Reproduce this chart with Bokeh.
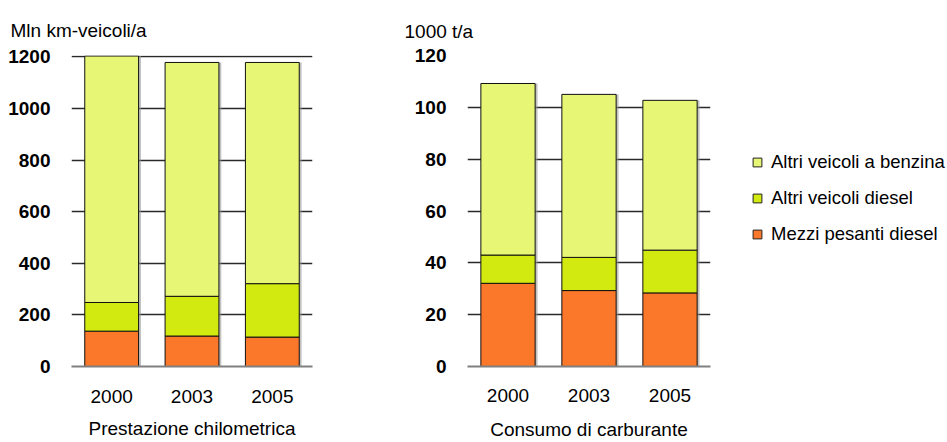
from bokeh.plotting import figure
from bokeh.models import FactorRange, Range1d, Legend, LegendItem, FixedTicker
from bokeh.layouts import row
from bokeh.transform import dodge
from bokeh.embed import file_html
from bokeh.resources import INLINE

years = ["2000", "2003", "2005"]
series = ["Mezzi pesanti diesel", "Altri veicoli diesel", "Altri veicoli a benzina"]
colors = ["#FB7729", "#D3EA10", "#E7F674"]

# Prestazione chilometrica (Mln km-veicoli/a)
km_pesanti = [137, 118, 114]
km_diesel = [111, 154, 207]
km_benzina = [955, 906, 857]

# Consumo di carburante (1000 t/a)
fuel_pesanti = [32.1, 29.3, 28.4]
fuel_diesel = [10.9, 12.8, 16.5]
fuel_benzina = [66.2, 62.9, 57.8]

FONT = "Liberation Sans"


def make_fig(vals, ymax, yticks, title, xlabel, width, height, bl, br, bt, bb, tick_so, lab_so):
    data = {"year": years, series[0]: vals[0], series[1]: vals[1], series[2]: vals[2]}
    data["total"] = [a + b + c for a, b, c in zip(*vals)]
    p = figure(x_range=FactorRange(*years, range_padding=0), y_range=Range1d(0, ymax),
               width=width, height=height, output_backend="svg", toolbar_location=None,
               min_border_left=bl, min_border_right=br, min_border_top=bt, min_border_bottom=bb)
    p.outline_line_color = None
    p.background_fill_color = "white"
    p.border_fill_color = "white"
    # shadow
    p.vbar(x=dodge("year", 0.03, range=p.x_range), top="total", width=0.67, source=data,
           fill_color="#9a9a9a", line_color=None, fill_alpha=0.6)
    rs = p.vbar_stack(series, x="year", width=0.67, source=data, fill_color=colors,
                      line_color="#111111", line_width=1)
    p.xgrid.visible = False
    p.ygrid.ticker = FixedTicker(ticks=yticks)
    p.ygrid.grid_line_color = "#2a2a2a"
    p.ygrid.grid_line_width = 1.4
    p.yaxis.ticker = FixedTicker(ticks=yticks)
    p.yaxis.axis_line_color = None
    p.yaxis.major_tick_line_color = None
    p.yaxis.minor_tick_line_color = None
    p.yaxis.major_tick_out = 0
    p.yaxis.minor_tick_out = 0
    p.yaxis.axis_label_standoff = 0
    p.yaxis.major_label_text_font = FONT
    p.yaxis.major_label_text_font_size = "19px"
    p.yaxis.major_label_text_font_style = "bold"
    p.yaxis.major_label_text_color = "#000000"
    p.yaxis.major_label_standoff = 21
    p.xaxis.axis_line_color = "#808080"
    p.xaxis.axis_line_width = 2
    p.xaxis.major_tick_line_color = None
    p.xaxis.minor_tick_line_color = None
    p.xaxis.major_tick_out = 0
    p.xaxis.minor_tick_out = 0
    p.xaxis.major_label_text_font = FONT
    p.xaxis.major_label_text_font_size = "19px"
    p.xaxis.major_label_text_color = "#000000"
    p.xaxis.major_label_standoff = tick_so
    p.xaxis.axis_label = xlabel
    p.xaxis.axis_label_text_font = FONT
    p.xaxis.axis_label_text_font_size = "19px"
    p.xaxis.axis_label_text_font_style = "normal"
    p.xaxis.axis_label_text_color = "#000000"
    p.xaxis.axis_label_standoff = lab_so
    p.title.text = title
    p.title.text_font = FONT
    p.title.text_font_size = "19px"
    p.title.text_font_style = "normal"
    p.title.text_color = "#000000"
    p.title.align = "left"
    return p, rs


p1, r1 = make_fig([km_pesanti, km_diesel, km_benzina], 1205, [0, 200, 400, 600, 800, 1000, 1200],
                  "Mln km-veicoli/a", "Prestazione chilometrica", 322, 442, 71, 10, 55, 73, 23, 12)
p1.title.offset = -61
p1.title.standoff = 30

p2, r2 = make_fig([fuel_pesanti, fuel_diesel, fuel_benzina], 120, [0, 20, 40, 60, 80, 100, 120],
                  "1000 t/a", "Consumo di carburante", 398, 442, 145, 10, 53, 75, 22, 14)
p2.title.offset = -63
p2.title.standoff = 28

# legend-only figure (legend proxies are hidden renderers of the fuel data)
p3 = figure(width=227, height=442, output_backend="svg", toolbar_location=None,
            x_range=FactorRange(*years), y_range=Range1d(0, 1),
            x_axis_type=None, y_axis_type=None, title=None,
            min_border_left=0, min_border_right=0, min_border_top=0, min_border_bottom=0)
p3.grid.visible = False
p3.outline_line_color = None
fuel_vals = [fuel_pesanti, fuel_diesel, fuel_benzina]
proxies = []
for i in range(3):
    rr = p3.scatter(x=years, y=fuel_vals[i], marker="square", size=9,
                    fill_color=colors[i], line_color="#222222", line_width=1)
    rr.visible = False
    proxies.append(rr)
items = [LegendItem(label=series[i], renderers=[proxies[i]]) for i in (2, 1, 0)]
legend = Legend(items=items, location=(26, 121))
legend.label_text_font = FONT
legend.label_text_font_size = "18.5px"
legend.label_text_color = "#000000"
legend.glyph_width = 22
legend.glyph_height = 22
legend.label_height = 22
legend.label_standoff = 3
legend.spacing = 14
legend.padding = 0
legend.margin = 0
legend.border_line_color = None
legend.background_fill_alpha = 0
legend.inactive_fill_alpha = 0
p3.add_layout(legend)

layout = row(p1, p2, p3)
open("out.html", "w").write(file_html(layout, INLINE))
